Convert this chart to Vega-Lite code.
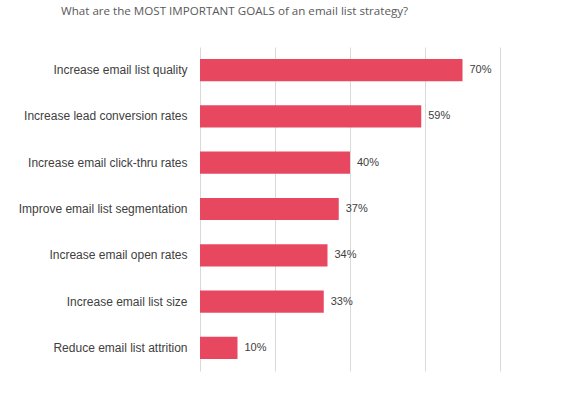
{
  "$schema": "https://vega.github.io/schema/vega-lite/v6.json",
  "autosize": "none",
  "width": 300,
  "height": 324,
  "padding": {"left": 200, "top": 47, "right": 61, "bottom": 23},
  "background": "white",
  "title": {
    "text": "What are the MOST IMPORTANT GOALS of an email list strategy?",
    "anchor": "start",
    "frame": "group",
    "dx": -139,
    "offset": 29,
    "font": "Open Sans",
    "fontSize": 11.6,
    "fontWeight": "normal",
    "color": "#595959"
  },
  "data": {
    "values": [
      {"goal": "Increase email list quality", "pct": 0.70},
      {"goal": "Increase lead conversion rates", "pct": 0.59},
      {"goal": "Increase email click-thru rates", "pct": 0.40},
      {"goal": "Improve email list segmentation", "pct": 0.37},
      {"goal": "Increase email open rates", "pct": 0.34},
      {"goal": "Increase email list size", "pct": 0.33},
      {"goal": "Reduce email list attrition", "pct": 0.10}
    ]
  },
  "encoding": {
    "y": {
      "field": "goal",
      "type": "nominal",
      "sort": null,
      "scale": {"paddingInner": 0.52, "paddingOuter": 0.26},
      "axis": {
        "title": null,
        "ticks": false,
        "domain": false,
        "labelPadding": 13,
        "labelFont": "Liberation Sans",
        "labelFontSize": 12,
        "labelColor": "#404040",
        "labelLimit": 200
      }
    },
    "x": {
      "field": "pct",
      "type": "quantitative",
      "scale": {"domain": [0, 0.8]},
      "axis": {
        "title": null,
        "labels": false,
        "ticks": false,
        "domain": false,
        "values": [0, 0.2, 0.4, 0.6, 0.8],
        "gridColor": "#D9D9D9",
        "gridWidth": 1
      }
    }
  },
  "layer": [
    {"mark": {"type": "bar", "color": "#E8485F"}},
    {
      "mark": {"type": "text", "align": "left", "dx": 7, "font": "Liberation Sans", "fontSize": 11, "color": "#404040"},
      "encoding": {"text": {"field": "pct", "type": "quantitative", "format": ".0%"}}
    }
  ],
  "config": {"view": {"stroke": null}}
}
